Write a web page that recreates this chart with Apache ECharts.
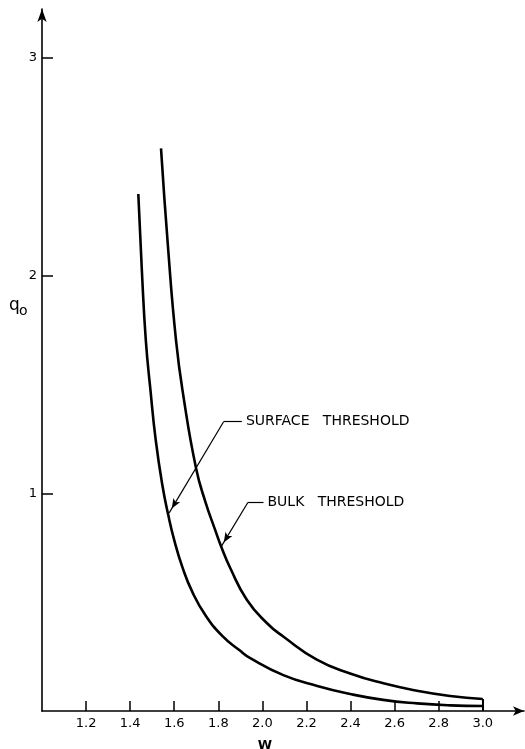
<!DOCTYPE html>
<html>
<head>
<meta charset="utf-8">
<script src="https://cdn.jsdelivr.net/npm/echarts@6/dist/echarts.min.js"></script>
<style>
  html, body { margin: 0; padding: 0; background: #fff; }
  #main { width: 525px; height: 749px; }
</style>
</head>
<body>
<div id="main"></div>
<script>
// surface threshold curve (W, q0)
var surfaceW = [1.437, 1.453, 1.471, 1.492, 1.516, 1.546, 1.573, 1.600, 1.637, 1.682, 1.741, 1.818, 1.895, 1.945, 2.095, 2.249, 2.398, 2.548, 2.702, 2.852, 3.0]
var surfaceQ = [2.375, 2.026, 1.704, 1.475, 1.245, 1.038, 0.900, 0.785, 0.661, 0.547, 0.441, 0.345, 0.280, 0.243, 0.165, 0.115, 0.078, 0.051, 0.035, 0.026, 0.023]

// bulk threshold curve
var bulkW = [1.540, 1.571, 1.608, 1.642, 1.699, 1.741, 1.786, 1.812, 1.854, 1.930, 2.021, 2.096, 2.247, 2.398, 2.549, 2.701, 2.852, 3.0]
var bulkQ = [2.585, 2.141, 1.704, 1.444, 1.115, 0.962, 0.831, 0.758, 0.657, 0.510, 0.403, 0.341, 0.236, 0.172, 0.127, 0.093, 0.069, 0.055]

var xTicks = [1.2, 1.4, 1.6, 1.8, 2.0, 2.2, 2.4, 2.6, 2.8, 3.0]
var yTicks = [1, 2, 3]

var font = 'DejaVu Sans'
var ink = '#000'

function pairs(xs, ys) {
  return xs.map(function (x, i) { return [x, ys[i]] })
}

var myChart = echarts.init(document.getElementById('main'))

var noteLabel = function (text) {
  return {
    show: true,
    position: 'start',
    distance: 4,
    formatter: text,
    color: ink,
    fontFamily: font,
    fontSize: 14
  }
}

var option = {
  animation: false,
  backgroundColor: '#fff',
  grid: { left: 42, right: 1, top: 9, bottom: 38, outerBoundsMode: 'none' },
  xAxis: {
    type: 'value',
    min: 1,
    max: 3.187,
    axisLine: {
      show: true,
      onZero: false,
      symbol: ['none', 'arrow'],
      symbolSize: [7, 11],
      lineStyle: { color: ink, width: 1.6 }
    },
    axisTick: { show: true, inside: true, length: 10, customValues: xTicks, lineStyle: { color: ink, width: 1.5 } },
    axisLabel: {
      customValues: xTicks,
      formatter: function (v) { return v.toFixed(1) },
      color: ink,
      fontFamily: font,
      fontSize: 13,
      margin: 6
    },
    splitLine: { show: false },
    name: 'W',
    nameLocation: 'middle',
    nameGap: 28,
    nameTextStyle: { color: ink, fontFamily: font, fontSize: 13, fontWeight: 'bold', padding: [0, 36, 0, 0] }
  },
  yAxis: {
    type: 'value',
    min: 0,
    max: 3.225,
    axisLine: {
      show: true,
      onZero: false,
      symbol: ['none', 'arrow'],
      symbolSize: [7, 13],
      lineStyle: { color: ink, width: 1.6 }
    },
    axisTick: { show: true, inside: true, length: 11, customValues: yTicks, lineStyle: { color: ink, width: 1.5 } },
    axisLabel: {
      customValues: yTicks,
      color: ink,
      fontFamily: font,
      fontSize: 13,
      margin: 5
    },
    splitLine: { show: false }
  },
  graphic: [
    { type: 'text', left: 9, top: 297, style: { text: 'q', fill: ink, font: '17px "DejaVu Sans"' } },
    { type: 'text', left: 19, top: 304, style: { text: 'o', fill: ink, font: '14px "DejaVu Sans"' } }
  ],
  series: [
    {
      name: 'SURFACE THRESHOLD',
      type: 'line',
      data: pairs(surfaceW, surfaceQ),
      symbol: 'none',
      smooth: 0.5,
      lineStyle: { color: ink, width: 2.6 },
      markLine: {
        silent: true,
        symbol: ['none', 'none'],
        lineStyle: { color: ink, width: 1.2, type: 'solid' },
        label: { show: false },
        data: [
          [{ coord: [1.907, 1.329], label: noteLabel('SURFACE   THRESHOLD') }, { coord: [1.824, 1.329] }],
          [{ coord: [1.824, 1.329] }, { coord: [1.577, 0.91], symbol: 'arrow', symbolSize: [6, 10], symbolOffset: [0, 5] }]
        ]
      }
    },
    {
      name: 'BULK THRESHOLD',
      type: 'line',
      data: pairs(bulkW, bulkQ),
      symbol: 'none',
      smooth: 0.5,
      lineStyle: { color: ink, width: 2.6 },
      markLine: {
        silent: true,
        symbol: ['none', 'none'],
        lineStyle: { color: ink, width: 1.2, type: 'solid' },
        label: { show: false },
        data: [
          [{ coord: [2.005, 0.958], label: noteLabel('BULK   THRESHOLD') }, { coord: [1.934, 0.958] }],
          [{ coord: [1.934, 0.958] }, { coord: [1.813, 0.755], symbol: 'arrow', symbolSize: [6, 10], symbolOffset: [0, 5] }],
          // closing edge at W = 3.0
          [{ coord: [3.0, bulkQ[bulkQ.length - 1]], lineStyle: { width: 2 } }, { coord: [3.0, 0] }]
        ]
      }
    }
  ]
}

myChart.setOption(option)
</script>
</body>
</html>
